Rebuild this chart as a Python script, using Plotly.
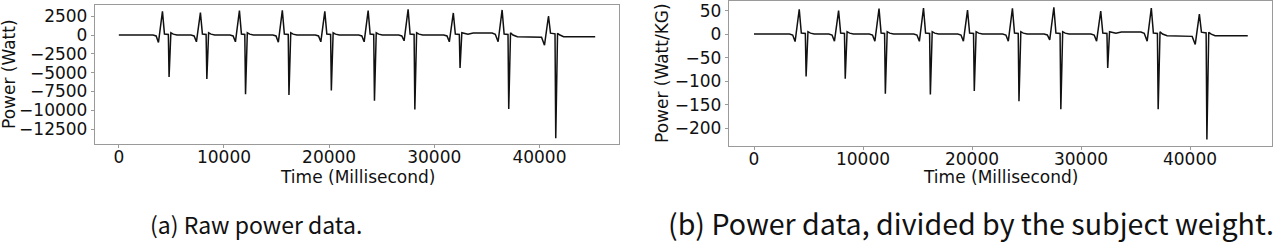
import plotly.graph_objects as go

# Time stamps (ms) of the sampled curve
time_ms = [
    0, 3250, 3550, 3770, 4150, 4340, 4710, 4780, 4950, 5180, 5530,
    6860, 7160, 7380, 7760, 7950, 8300, 8370, 8540, 8770, 9120,
    10570, 10870, 11090, 11470, 11660, 11980, 12050, 12220, 12450, 12800,
    14650, 14950, 15170, 15550, 15740, 16110, 16180, 16350, 16580, 16930,
    18690, 18990, 19210, 19590, 19780, 20140, 20210, 20380, 20610, 20960,
    22810, 23110, 23330, 23710, 23900, 24240, 24310, 24480, 24710, 25060,
    26610, 26910, 27130, 27510, 27700, 28080, 28150, 28320, 28550, 28900,
    30910, 31210, 31430, 31810, 32000, 32380, 32450, 32620, 32850, 33200, 33700, 35500,
    35800, 36070, 36450, 36640, 37010, 37080, 37250, 37480, 37900, 39900,
    40200, 40480, 40860, 41050, 41480, 41550, 41720, 41950, 42300, 45300,
]

# Raw power (Watt)
power_watt = [
    0, 0, -120, -990, 3150, 120, 80, -5580, 300, 120, 0,
    0, -120, -900, 2970, 120, 80, -5850, 300, 120, 0,
    0, -120, -900, 3240, 120, 80, -7880, 300, 120, 0,
    0, -120, -950, 3280, 120, 80, -7970, 300, 120, 0,
    0, -120, -900, 3150, 120, 80, -7390, 300, 120, 0,
    0, -120, -900, 3240, 120, 80, -8740, 300, 120, 0,
    0, -120, -770, 3420, 120, 80, -9900, 300, 120, 0,
    0, -120, -900, 2930, 120, 80, -4370, 300, 200, 100, 270, 270,
    100, -900, 3330, 120, 80, -9820, 300, 0, -230, -230,
    -300, -1350, 2530, 250, 150, -13740, 230, 0, -230, -230,
]

# Power divided by subject weight (Watt/KG)
power_per_kg = [
    0, 0, -2, -16, 52.6, 2, 1.3, -90, 5, 2, 0,
    0, -2, -15, 49.7, 2, 1.3, -95, 5, 2, 0,
    0, -2, -15, 54, 2, 1.3, -127, 5, 2, 0,
    0, -2, -15.5, 55.4, 2, 1.3, -128.6, 5, 2, 0,
    0, -2, -15, 51, 2, 1.3, -121, 5, 2, 0,
    0, -2, -15, 54.7, 2, 1.3, -143, 5, 2, 0,
    0, -2, -12.5, 57, 2, 1.3, -160, 5, 2, 0,
    0, -2, -15, 49, 2, 1.3, -72, 5, 3.3, 1.6, 4.4, 4.4,
    1.6, -15, 55.4, 2, 1.3, -160, 5, 0, -3.7, -3.7,
    -4.9, -22, 42.6, 4, 2.4, -224, 3.7, 0, -3.7, -3.7,
]

x_ticks = [0, 10000, 20000, 30000, 40000]
y_ticks_a = [2500, 0, -2500, -5000, -7500, -10000, -12500]
y_ticks_b = [50, 0, -50, -100, -150, -200]

W, H = 1280, 245
TICK_FONT = dict(family="DejaVu Sans", size=17, color="#111")
LINE = dict(color="#111111", width=1.5)

fig = go.Figure()
fig.add_trace(go.Scatter(x=time_ms, y=power_watt, mode="lines", line=LINE,
                         xaxis="x", yaxis="y", showlegend=False))
fig.add_trace(go.Scatter(x=time_ms, y=power_per_kg, mode="lines", line=LINE,
                         xaxis="x2", yaxis="y2", showlegend=False))

axis_common = dict(showline=True, mirror=True, linecolor="#9a9a9a", linewidth=1.3,
                   showgrid=False, zeroline=False, ticks="outside", ticklen=3,
                   tickcolor="#9a9a9a", tickfont=TICK_FONT, tickformat="d")

fig.update_layout(
    width=W, height=H,
    margin=dict(l=0, r=0, t=0, b=0),
    paper_bgcolor="white", plot_bgcolor="white",
    xaxis=dict(domain=[95 / W, 619 / W], range=[-2265, 47565], anchor="y",
               tickvals=x_ticks, ticklabelstandoff=-6, **axis_common),
    yaxis=dict(domain=[1 - 144 / H, 1 - 5 / H], range=[-14490, 3990], anchor="x",
               tickvals=y_ticks_a, **axis_common),
    xaxis2=dict(domain=[729 / W, 1272 / W], range=[-2294, 47523], anchor="y2",
                tickvals=x_ticks, ticklabelstandoff=-6, **axis_common),
    yaxis2=dict(domain=[1 - 146 / H, 1 - 1 / H], range=[-238, 70.3], anchor="x2",
                tickvals=y_ticks_b, **axis_common),
)

ann_font = dict(family="DejaVu Sans", size=17, color="#111")
cap_family = "Noto Sans CJK SC, Liberation Sans"
annotations = [
    dict(text="Time (Millisecond)", x=357 / W, y=1 - 177 / H, xref="paper", yref="paper",
         xanchor="center", yanchor="middle", showarrow=False, font=ann_font),
    dict(text="Time (Millisecond)", x=1000.5 / W, y=1 - 177 / H, xref="paper", yref="paper",
         xanchor="center", yanchor="middle", showarrow=False, font=ann_font),
    dict(text="Power (Watt)", x=9 / W, y=1 - 74 / H, xref="paper", yref="paper",
         xanchor="center", yanchor="middle", textangle=-90, showarrow=False, font=ann_font),
    dict(text="Power (Watt/KG)", x=662 / W, y=1 - 73 / H, xref="paper", yref="paper",
         xanchor="center", yanchor="middle", textangle=-90, showarrow=False, font=ann_font),
    dict(text="(a) Raw power data.", x=256 / W, y=1 - 224 / H, xref="paper", yref="paper",
         xanchor="center", yanchor="middle", showarrow=False,
         font=dict(family=cap_family, size=23, color="#111")),
    dict(text="(b) Power data, divided by the subject weight.", x=971 / W, y=1 - 222 / H,
         xref="paper", yref="paper", xanchor="center", yanchor="middle", showarrow=False,
         font=dict(family=cap_family, size=28.6, color="#111")),
]
fig.update_layout(annotations=annotations)

fig.write_html("out.html")
